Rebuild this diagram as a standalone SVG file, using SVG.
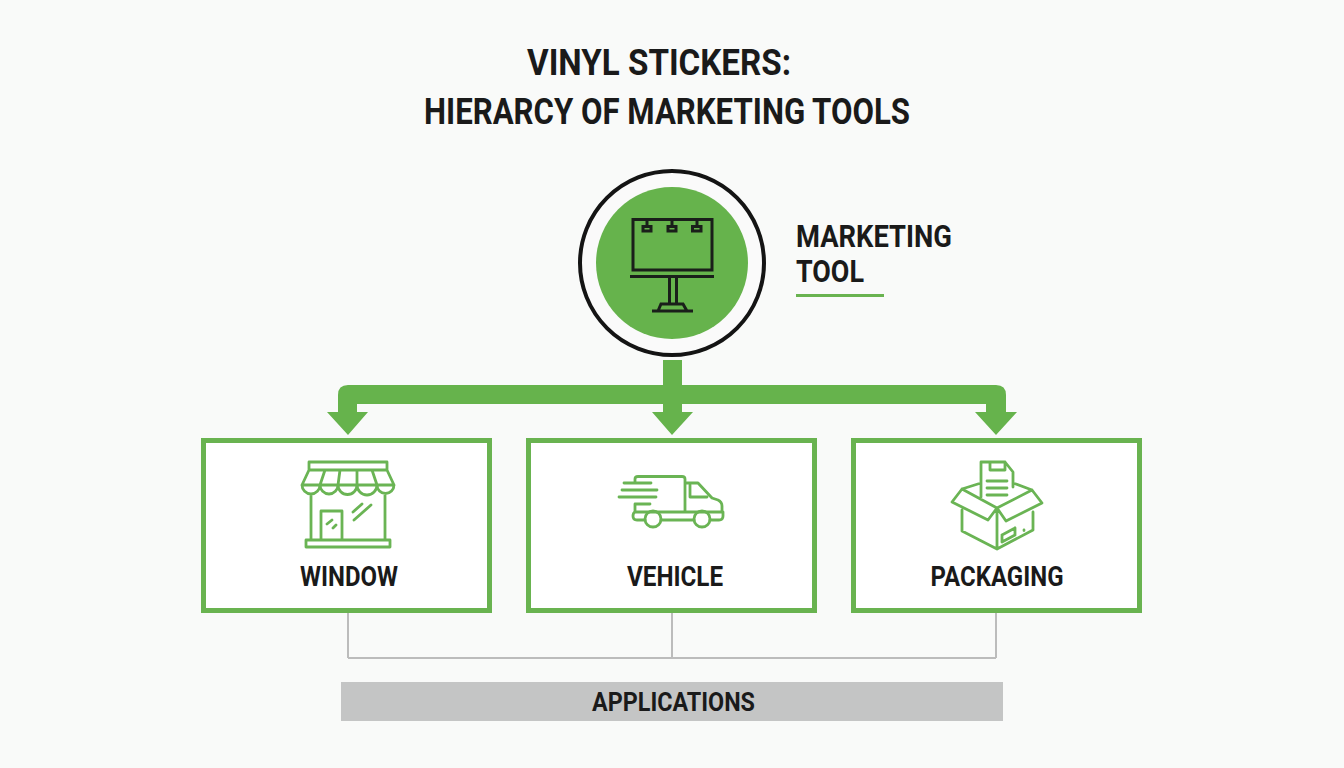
<svg xmlns="http://www.w3.org/2000/svg" width="1344" height="768" viewBox="0 0 1344 768">
<style>
.t{font-family:Roboto,"Liberation Sans",sans-serif;font-weight:700;fill:#1a1a1a;text-anchor:middle}
.box{fill:#fff;stroke:#69b350;stroke-width:5}
.i{fill:none;stroke:#6ab454;stroke-width:2.800;stroke-linejoin:round;stroke-linecap:round}
.k{fill:none;stroke:#1a1f1a;stroke-width:3}
.g{fill:none;stroke:#bcbcbc;stroke-width:2}
</style>
<rect width="1344" height="768" fill="#f9faf9"/>
<g id="title">
<text class="t" x="659" y="75" font-size="36" textLength="264" lengthAdjust="spacingAndGlyphs">VINYL STICKERS:</text>
<text class="t" x="667" y="124" font-size="36" textLength="486" lengthAdjust="spacingAndGlyphs">HIERARCY OF MARKETING TOOLS</text>
</g>
<g id="connectors">
<path class="g" d="M348 613V658M672 613V658M996 613V658M348 658H996"/>
<path fill="#66b34c" d="M338 412V395Q338 385 348 385H663V360H682V385H996Q1006 385 1006 395V412H1017L996 435L975 412H986V404H682V412H693L672 435L652 412H663V404H357V412H368L348 435L327 412Z"/>
</g>
<g id="marketing-tool">
<circle cx="672" cy="263" r="92" fill="#fafafa" stroke="#141414" stroke-width="4"/>
<circle cx="672" cy="263" r="76" fill="#66b34c"/>
<path class="k" d="M633 219.500H712V270H633ZM630 276.500H714M669.500 277V304M676.500 277V304M658 311L661 304H683L687 311M652 311H693M647 220V226M672 220V226M697 220V226"/>
<path class="k" stroke-width="2" d="M643 226.500H651V231H643ZM668 226.500H676V231H668ZM692.500 226.500H701V231H692.500Z"/>
<text class="t" style="text-anchor:start" x="796" y="247" font-size="31" textLength="156" lengthAdjust="spacingAndGlyphs">MARKETING</text>
<text class="t" style="text-anchor:start" x="796" y="282" font-size="31" textLength="68" lengthAdjust="spacingAndGlyphs">TOOL</text>
<rect x="796" y="294" width="88" height="3" fill="#69b350"/>
</g>
<g id="window">
<rect class="box" x="203.500" y="440.500" width="286" height="170"/>
<path class="i" d="M309 462H387V470H309ZM309 470L302 485M387 470L394 485M302 485H394M325 470L320 485M340 470L338 485M357 470V485M372 470L377 485M302 485A9 9 0 0 0 320 485A9 9 0 0 0 338 485A9.500 9.500 0 0 0 357 485A10 10 0 0 0 377 485A8.500 8.500 0 0 0 394 485M311 494V540M385 494V540M321 540V511H342V540M306 540H390V547H306ZM353 512L362 504M354 520L371 505M327 524L332 520M333 528L336 525"/>
<text class="t" x="349" y="586" font-size="27" textLength="98" lengthAdjust="spacingAndGlyphs">WINDOW</text>
</g>
<g id="vehicle">
<rect class="box" x="528.500" y="440.500" width="286" height="170"/>
<path class="i" d="M635 483V479Q635 476.500 638 476.500H682Q685 476.500 685 479V512M687 483H698L712 498L718 500Q722 502 722 506V512H635V504M690 485V497H707M635 512Q633 513 633 516Q633 520 637 520H645M661 520H694M710 520H719Q723 520 723 516V512M624 483H651M622 490H657M619 497H656M635 504H650"/>
<circle class="i" cx="653" cy="519" r="8" fill="#fff"/>
<circle class="i" cx="702" cy="519" r="8" fill="#fff"/>
<text class="t" x="675" y="586" font-size="27" textLength="96" lengthAdjust="spacingAndGlyphs">VEHICLE</text>
</g>
<g id="packaging">
<rect class="box" x="853.500" y="440.500" width="286" height="170"/>
<path class="i" d="M981 497V462H1005L1013 472V487M990 462V470H1005V462M987 481H1007M987 488H1007M987 495H1007M981 483L962 489L952 502L988 520L997 508L962 489M1013 483L1032 490L1042 503L1006 521L997 508L1032 490M962 510V531L997 549L1033 530V512M997 508V549M1002 535L1015 528M1002 542L1015 535M1002 535V542M1015 528V535M1024 530V530.500"/>
<text class="t" x="997" y="586" font-size="27" textLength="133" lengthAdjust="spacingAndGlyphs">PACKAGING</text>
</g>
<g id="applications">
<rect x="341" y="682" width="662" height="39" fill="#c4c5c5"/>
<text class="t" x="673.500" y="711" font-size="26" textLength="163" lengthAdjust="spacingAndGlyphs">APPLICATIONS</text>
</g>
</svg>
